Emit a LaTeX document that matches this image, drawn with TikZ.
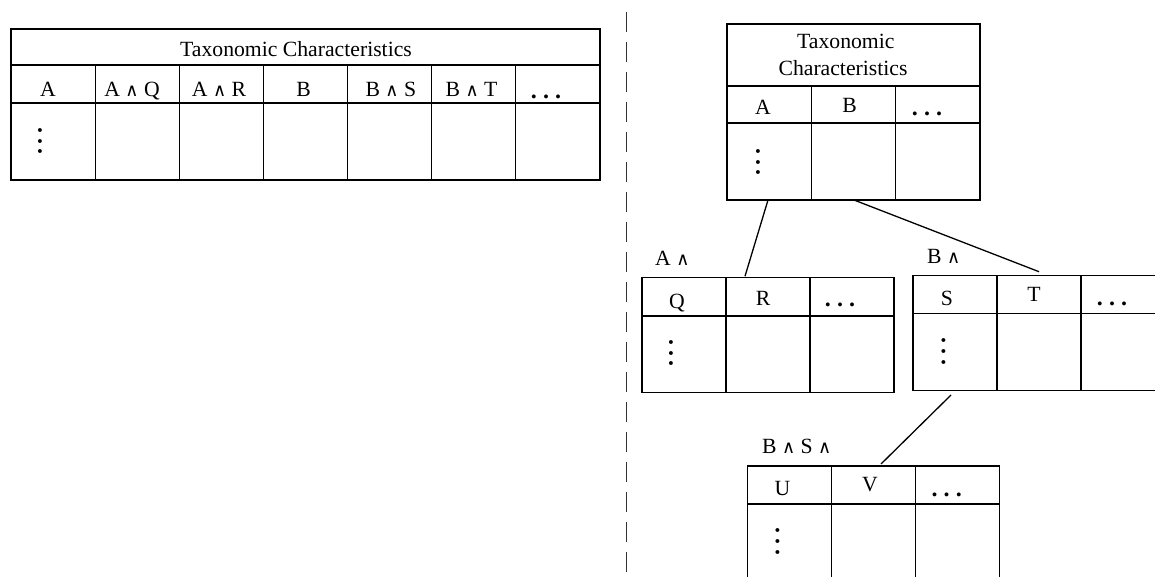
\documentclass[tikz,border=0pt]{standalone}
\usepackage{fontspec}
\setmainfont{Liberation Serif}
\newfontfamily\symf{DejaVu Sans}
\usetikzlibrary{calc}
\newcommand\wdg{{\symf\fontsize{18}{18}\selectfont ∧}}
\newcommand\hdts{{\bfseries\fontsize{24}{24}\selectfont .\kern6.2pt.\kern6.2pt.}}
\newcommand\vdts{{\bfseries\fontsize{24}{24}\selectfont .\kern4.8pt.\kern4.8pt.}}
\newcommand\tgrid[4]{%
  \foreach \yy in {#2} \draw[gridline] ($(#1.north west)+(0,\yy)$) -- ($(#1.north east)+(0,\yy)$);
  \foreach \xx in {#3} \draw[gridline] ($(#1.north west)+(\xx,#4)$) -- ($(#1.south west)+(\xx,0)$);
}
\begin{document}
\begin{tikzpicture}[x=1pt,y=-1pt,
  font=\fontsize{21.7}{26.5}\selectfont,
  tbl/.style={draw, line width=1.2pt, inner sep=0pt, outer sep=0pt, anchor=north west},
  gridline/.style={line width=1.2pt},
  txt/.style={inner sep=0pt, anchor=base},
  lbl/.style={inner sep=0pt, anchor=base west},
  vd/.style={inner sep=0pt, anchor=base, rotate=90},
  conn/.style={line width=1.3pt},
  sep/.style={line width=1pt, dash pattern=on 20pt off 10pt, draw=black!80}]
\clip (0,0) rectangle (1155,576);
\fill[white] (0,0) rectangle (1155,576);

% separator
\coordinate (s1) at (626.7,11.7);
\coordinate (s2) at (626.7,580);
\draw[sep] (s1) -- (s2);

% left flat table
\node[tbl, minimum width=589pt, minimum height=151pt] (lt) at (11,29) {};
\tgrid{lt}{36,74}{84.14,168.29,252.43,336.57,420.71,504.86}{36}
\node[txt] (lt-h) at (296,56.7) {Taxonomic Characteristics};
\node[txt] (lt-1) at (48,96) {A};
\node[txt] (lt-2) at (132,96) {A \wdg{} Q};
\node[txt] (lt-3) at (219,96) {A \wdg{} R};
\node[txt] (lt-4) at (303.5,96) {B};
\node[txt] (lt-5) at (390.8,96) {B \wdg{} S};
\node[txt] (lt-6) at (471.5,96) {B \wdg{} T};
\node[txt] (lt-7) at (546,98) {\hdts};
\node[vd] (lt-v) at (41.5,141) {\vdts};

% top right table
\node[tbl, minimum width=253pt, minimum height=176pt] (tr) at (727,24) {};
\tgrid{tr}{62,99}{84.33,168.67}{62}
\node[txt] (tr-h1) at (845.8,48.3) {Taxonomic};
\node[txt] (tr-h2) at (843,75) {Characteristics};
\node[txt] (tr-1) at (763,114.3) {A};
\node[txt] (tr-2) at (849.7,112.7) {B};
\node[txt] (tr-3) at (927,115) {\hdts};
\node[vd] (tr-v) at (759.5,162) {\vdts};

% A table
\node[tbl, minimum width=252pt, minimum height=114.6pt] (ta) at (642,277.7) {};
\tgrid{ta}{38.3}{84,168}{0}
\node[lbl] (ta-l) at (655,265) {A \wdg};
\node[txt] (ta-1) at (677,308.3) {Q};
\node[txt] (ta-2) at (763,305) {R};
\node[txt] (ta-3) at (840,306.7) {\hdts};
\node[vd] (ta-v) at (672.5,353) {\vdts};

% B table
\node[tbl, minimum width=252pt, minimum height=115pt] (tb) at (913,275.7) {};
\tgrid{tb}{37.6}{84,168}{0}
\node[lbl] (tb-l) at (927,263) {B \wdg};
\node[txt] (tb-1) at (947,305) {S};
\node[txt] (tb-2) at (1034,301.7) {T};
\node[txt] (tb-3) at (1112,305) {\hdts};
\node[vd] (tb-v) at (945,351.5) {\vdts};

% bottom table
\node[tbl, minimum width=252pt, minimum height=115pt] (tc) at (747.3,466) {};
\tgrid{tc}{38}{84,168}{0}
\node[lbl] (tc-l) at (762,453) {B \wdg{} S \wdg};
\node[txt] (tc-1) at (782.5,495) {U};
\node[txt] (tc-2) at (870,491.7) {V};
\node[txt] (tc-3) at (946.7,496) {\hdts};
\node[vd] (tc-v) at (779.2,541.5) {\vdts};

% connectors
\draw[conn] ($(tr.south west)+(41,0)$) -- ($(ta.north west)+(103,-1.5)$);
\draw[conn] ($(tr.south west)+(127,0)$) -- ($(tb.north west)+(126,-4)$);
\draw[conn] ($(tb.south west)+(38,4.3)$) -- ($(tc.north west)+(133.7,-2)$);
\end{tikzpicture}
\end{document}
